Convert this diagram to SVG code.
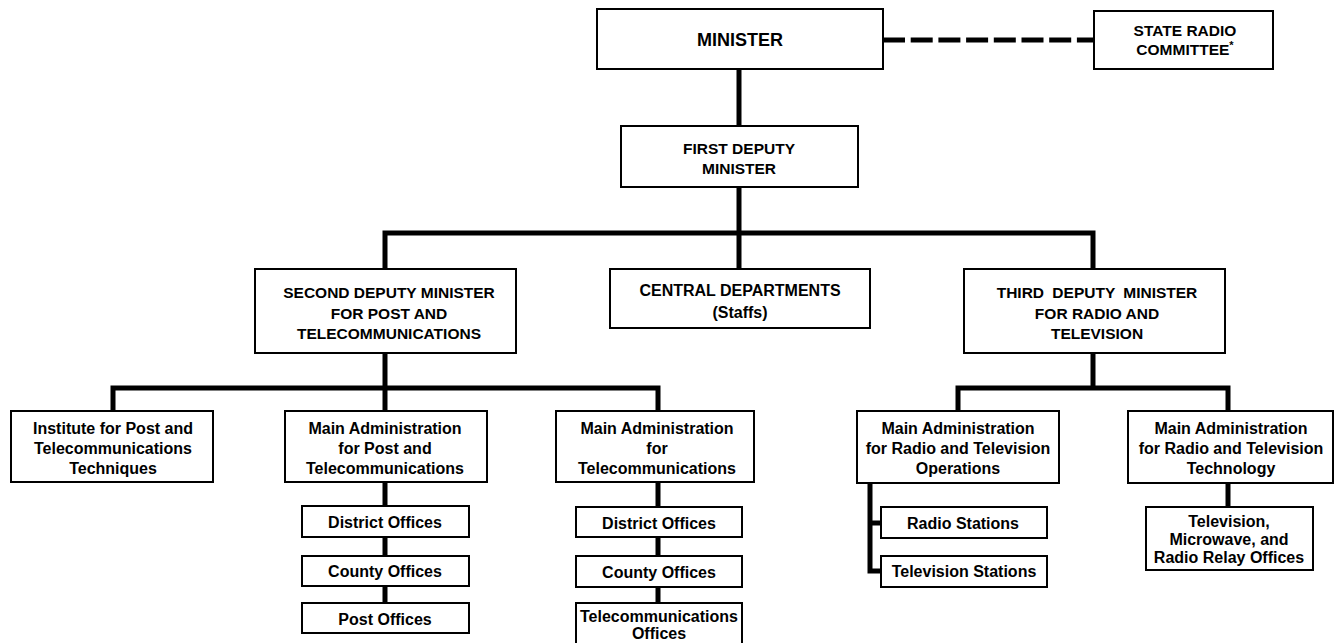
<svg xmlns="http://www.w3.org/2000/svg" width="1335" height="643" viewBox="0 0 1335 643">
<style>
.box{fill:#fff;stroke:#000;stroke-width:2}
.t{font-family:"Liberation Sans",Arial,sans-serif;font-weight:bold;fill:#000;text-anchor:middle}
.cap{font-size:15.5px}
.low{font-size:16px}
.con{fill:none;stroke:#000;stroke-width:5;stroke-linejoin:miter;stroke-linecap:butt}
.dash{fill:none;stroke:#000;stroke-width:5;stroke-dasharray:22 5.7}
</style>
<rect width="1335" height="643" fill="#fff"/>
<g id="connectors">
<path class="dash" d="M883,40 H1094"/>
<path class="con" d="M739,69 V126"/>
<path class="con" d="M739,187 V269"/>
<path class="con" d="M385,269 V233 H1093 V269"/>
<path class="con" d="M385,353 V411"/>
<path class="con" d="M113,411 V388 H658 V411"/>
<path class="con" d="M1093,353 V388"/>
<path class="con" d="M958,411 V388 H1228 V411"/>
<path class="con" d="M385,482 V506 M385,537 V556 M385,586 V603"/>
<path class="con" d="M658,482 V507 M658,537 V556 M658,587 V603"/>
<path class="con" d="M870,483 V571 H881 M870,523 H881"/>
<path class="con" d="M1228,483 V507"/>
</g>
<g id="minister">
<rect class="box" x="597" y="9" width="286" height="60"/>
<text class="t" x="740" y="45.5" font-size="18">MINISTER</text>
</g>
<g id="state-radio">
<rect class="box" x="1094" y="11" width="179" height="58"/>
<text class="t cap" x="1185" y="35.5">STATE RADIO</text>
<text class="t cap" x="1185" y="55">COMMITTEE<tspan font-size="11" dy="-6">*</tspan></text>
</g>
<g id="first-deputy">
<rect class="box" x="621" y="126" width="237" height="61"/>
<text class="t cap" x="739" y="154">FIRST DEPUTY</text>
<text class="t cap" x="739" y="173.5">MINISTER</text>
</g>
<g id="second-deputy">
<rect class="box" x="255" y="269" width="261" height="84"/>
<text class="t cap" x="389" y="297.5">SECOND DEPUTY MINISTER</text>
<text class="t cap" x="389" y="318.5">FOR POST AND</text>
<text class="t cap" x="389" y="339">TELECOMMUNICATIONS</text>
</g>
<g id="central">
<rect class="box" x="610" y="269" width="260" height="59"/>
<text class="t" x="740" y="296" font-size="16">CENTRAL DEPARTMENTS</text>
<text class="t low" x="740" y="318">(Staffs)</text>
</g>
<g id="third-deputy">
<rect class="box" x="964" y="269" width="261" height="84"/>
<text class="t cap" x="1097" y="297.5" word-spacing="4">THIRD DEPUTY MINISTER</text>
<text class="t cap" x="1097" y="318.5">FOR RADIO AND</text>
<text class="t cap" x="1097" y="339">TELEVISION</text>
</g>
<g id="institute">
<rect class="box" x="11" y="411" width="202" height="71"/>
<text class="t low" x="113" y="434">Institute for Post and</text>
<text class="t low" x="113" y="454">Telecommunications</text>
<text class="t low" x="113" y="474">Techniques</text>
</g>
<g id="main-admin-post">
<rect class="box" x="285" y="411" width="202" height="71"/>
<text class="t low" x="385" y="434">Main Administration</text>
<text class="t low" x="385" y="454">for Post and</text>
<text class="t low" x="385" y="474">Telecommunications</text>
</g>
<g id="post-district">
<rect class="box" x="302" y="506" width="167" height="31"/>
<text class="t low" x="385" y="528">District Offices</text>
</g>
<g id="post-county">
<rect class="box" x="302" y="556" width="167" height="30"/>
<text class="t low" x="385" y="577">County Offices</text>
</g>
<g id="post-offices">
<rect class="box" x="302" y="603" width="167" height="30"/>
<text class="t low" x="385" y="624.5">Post Offices</text>
</g>
<g id="main-admin-telecom">
<rect class="box" x="556" y="411" width="198" height="71"/>
<text class="t low" x="657" y="434">Main Administration</text>
<text class="t low" x="657" y="454">for</text>
<text class="t low" x="657" y="474">Telecommunications</text>
</g>
<g id="telecom-district">
<rect class="box" x="576" y="507" width="166" height="30"/>
<text class="t low" x="659" y="528.5">District Offices</text>
</g>
<g id="telecom-county">
<rect class="box" x="576" y="556" width="166" height="31"/>
<text class="t low" x="659" y="577.5">County Offices</text>
</g>
<g id="telecom-offices">
<rect class="box" x="576" y="603" width="166" height="50"/>
<text class="t low" x="659" y="621.5">Telecommunications</text>
<text class="t low" x="659" y="639">Offices</text>
</g>
<g id="radio-tv-ops">
<rect class="box" x="857" y="411" width="202" height="72"/>
<text class="t low" x="958" y="434">Main Administration</text>
<text class="t low" x="958" y="454">for Radio and Television</text>
<text class="t low" x="958" y="474">Operations</text>
</g>
<g id="radio-stations">
<rect class="box" x="881" y="507" width="166" height="31"/>
<text class="t low" x="963" y="528.5">Radio Stations</text>
</g>
<g id="tv-stations">
<rect class="box" x="881" y="556" width="166" height="31"/>
<text class="t low" x="964" y="577">Television Stations</text>
</g>
<g id="radio-tv-tech">
<rect class="box" x="1128" y="411" width="205" height="72"/>
<text class="t low" x="1231" y="434">Main Administration</text>
<text class="t low" x="1231" y="454">for Radio and Television</text>
<text class="t low" x="1231" y="474">Technology</text>
</g>
<g id="relay-offices">
<rect class="box" x="1146" y="507" width="167" height="63"/>
<text class="t low" x="1229" y="526.5">Television,</text>
<text class="t low" x="1229" y="544.5">Microwave, and</text>
<text class="t low" x="1229" y="562.5">Radio Relay Offices</text>
</g>
</svg>
